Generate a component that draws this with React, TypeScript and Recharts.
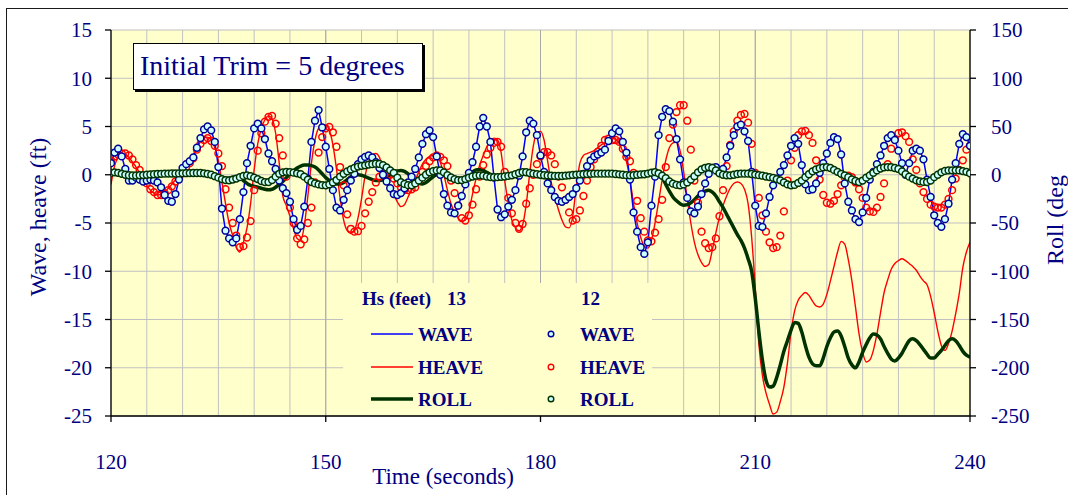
import {
  CartesianGrid,
  ComposedChart,
  Line,
  ReferenceLine,
  XAxis,
  YAxis,
} from "recharts";

// time axis: samples every 0.5 s from 120 s to 240 s
const xMin = 120;
const xMax = 240;
const sampleStep = 0.5;

// wave elevation (ft), same record for both sea states
const wave = [
  1.2, 2.3, 2.7, 1.9, 0.6, -0.6, -0.6, -0.3, -0.5, -0.7,
  -0.6, -0.5, -0.6, -0.8, -1.3, -2.1, -2.7, -2.8, -2.0, -0.5,
  0.7, 1.1, 1.4, 1.8, 2.8, 3.8, 4.7, 5.0, 4.6, 3.4,
  0.8, -3.5, -5.8, -6.6, -7.0, -6.6, -4.6, -1.8, 1.2, 3.0,
  4.8, 5.3, 4.8, 3.7, 2.2, 1.4, 0.6, -0.6, -1.4, -1.9,
  -2.8, -4.6, -5.7, -5.3, -3.3, -0.4, 3.4, 5.6, 6.7, 4.9,
  2.9, 0.6, -1.6, -3.4, -3.7, -2.6, -1.6, -0.6, 0.1, 1.1,
  1.6, 1.85, 2.0, 1.8, 1.3, 0.7, 0.0, -0.7, -1.4, -2.0,
  -2.1, -1.9, -1.4, -0.8, -0.2, 0.6, 1.8, 3.2, 4.2, 4.6,
  3.9, 1.9, 0.0, -2.0, -3.2, -3.9, -4.0, -3.2, -2.2, -1.0,
  0.2, 1.3, 2.9, 5.0, 5.9, 5.0, 3.4, -0.3, -3.6, -4.4,
  -4.1, -3.3, -2.6, -1.6, -0.1, 1.9, 4.4, 5.6, 5.3, 4.1,
  2.0, 0.3, -0.9, -1.6, -2.3, -2.7, -2.8, -2.6, -2.3, -2.0,
  -1.4, -0.6, 0.1, 0.9, 1.5, 1.9, 2.1, 2.3, 2.6, 3.5,
  4.3, 4.8, 4.5, 3.4, 2.3, -0.5, -3.9, -5.9, -7.5, -8.2,
  -7.0, -3.2, -0.2, 4.1, 6.0, 6.8, 6.6, 5.5, 3.7, 1.6,
  -0.8, -2.4, -3.8, -4.0, -3.3, -2.0, -0.9, 0.1, 0.7, 0.8,
  0.2, 0.6, 1.8, 3.0, 4.1, 5.0, 5.2, 4.5, 3.5, 0.3,
  -3.2, -5.3, -5.4, -4.0, -2.3, -1.1, -0.4, 0.3, 1.0, 2.0,
  3.0, 3.8, 3.2, 1.0, -1.0, -1.6, -1.5, -0.9, 0.2, 1.2,
  2.2, 3.3, 3.9, 3.7, 2.1, -0.9, -2.8, -3.7, -4.6, -4.9,
  -3.9, -2.4, -0.5, 0.3, 1.1, 2.0, 3.0, 3.8, 4.1, 3.6,
  2.5, 1.2, 0.0, 1.2, 2.5, 2.7, 2.5, 1.6, -0.5, -2.3,
  -4.2, -5.0, -5.4, -4.6, -3.0, -0.5, 1.2, 3.2, 4.2, 3.9,
  3.0,
];

// heave (ft), Hs = 13 ft
const heave13 = [
  -1.0, 0.9, 1.8, 2.1, 2.1, 1.8, 1.3, 0.8, 0.2, -0.5,
  -1.1, -1.6, -1.9, -2.1, -2.0, -1.8, -1.4, -1.0, -0.5, 0.0,
  0.5, 1.0, 1.5, 2.1, 2.8, 3.4, 3.8, 3.9, 3.6, 2.8,
  1.5, -0.8, -3.0, -5.0, -6.3, -7.5, -8.0, -7.0, -5.5, -3.0,
  0.5, 3.2, 4.8, 5.7, 6.1, 5.8, 4.3, 1.2, -2.2, -3.2,
  -4.3, -5.6, -6.6, -6.8, -5.3, -2.2, 1.2, 3.6, 4.8, 5.1,
  5.1, 4.6, 3.1, 0.6, -2.4, -4.7, -5.8, -6.1, -5.8, -4.5,
  -2.5, -0.1, 1.3, 2.0, 2.2, 1.8, 0.5, -0.6, -1.6, -2.1,
  -2.8, -3.3, -3.1, -2.3, -1.5, -0.6, 0.3, 1.1, 1.6, 1.9,
  2.0, 1.9, 1.3, 0.0, -1.6, -3.0, -3.9, -4.5, -4.8, -4.7,
  -3.8, -2.0, -0.4, 1.0, 2.0, 2.9, 3.5, 3.8, 3.6, 2.3,
  -0.6, -2.9, -4.7, -5.5, -5.8, -5.2, -3.1, 0.2, 3.0, 4.4,
  4.5, 3.6, 1.4, -0.8, -2.3, -3.6, -4.7, -5.4, -5.5, -4.3,
  -1.2, 1.2, 2.0, 2.2, 2.35, 2.5, 2.8, 3.1, 3.3, 3.6,
  3.75, 3.7, 3.2, 2.4, 1.4, -0.5, -3.0, -5.0, -6.5, -7.4,
  -7.6, -6.8, -5.0, -2.8, -0.5, 1.5, 2.8, 3.3, 3.4, 2.5,
  0.3, -2.5, -5.0, -7.0, -8.3, -9.1, -9.5, -9.3, -7.8, -6.0,
  -4.4, -3.2, -2.2, -1.4, -0.9, -0.75, -0.9, -1.5, -3.0, -6.5,
  -11.7, -17.5, -20.8, -22.6, -23.8, -24.8, -24.6, -23.5, -22.0, -19.5,
  -16.3, -14.1, -13.0, -12.5, -12.2, -12.5, -13.1, -13.6, -13.7, -13.4,
  -12.4, -11.0, -9.5, -8.0, -6.9, -7.2, -8.8, -11.0, -13.7, -16.5,
  -18.4, -19.4, -19.2, -18.2, -16.5, -14.3, -12.2, -10.9, -9.8, -9.2,
  -8.9, -8.7, -8.9, -9.2, -9.5, -9.9, -10.5, -11.0, -11.4, -12.6,
  -14.3, -16.2, -17.7, -18.2, -17.5, -16.2, -14.4, -12.3, -9.6, -8.0,
  -7.0,
];

// heave (ft), Hs = 12 ft
const heave12 = [
  1.5, 1.9, 2.1, 2.2, 2.2, 2.0, 1.6, 1.0, 0.5, -0.3,
  -0.9, -1.5, -1.8, -2.1, -2.1, -1.9, -1.6, -1.2, -0.7, -0.3,
  0.2, 0.8, 1.2, 1.7, 2.6, 3.2, 3.6, 3.8, 3.5, 3.0,
  2.2, 0.9, -1.5, -3.4, -5.0, -6.3, -7.5, -7.4, -6.5, -4.8,
  -1.6, 2.5, 4.3, 5.5, 6.0, 6.1, 5.3, 3.8, 2.0, -0.2,
  -3.4, -5.0, -6.6, -7.2, -6.7, -5.0, -3.4, -0.8, 2.3, 3.9,
  4.8, 4.95, 4.4, 2.9, 0.8, -1.1, -4.1, -5.6, -5.9, -5.85,
  -5.3, -4.0, -2.8, -1.8, -0.8, -0.2, 0.0, 0.3, 0.0, -0.4,
  -0.9, -1.3, -1.6, -1.6, -1.5, -1.3, -0.6, 0.3, 0.9, 1.4,
  1.8, 2.0, 1.85, 1.5, 0.9, -0.6, -1.9, -3.2, -4.5, -4.75,
  -4.2, -3.1, -1.5, -0.2, 1.0, 2.1, 2.8, 3.3, 3.4, 2.9,
  0.3, -2.4, -4.0, -5.0, -5.6, -5.1, -3.0, -1.4, 0.0, 1.1,
  1.9, 2.35, 2.35, 2.0, 1.1, -0.2, -1.3, -2.6, -3.9, -4.75,
  -4.6, -3.7, -2.2, -0.6, 0.8, 1.6, 2.4, 3.0, 3.6, 3.75,
  3.6, 3.6, 3.4, 2.7, 1.85, 1.4, 0.2, -2.7, -4.5, -5.9,
  -6.8, -6.9, -6.0, -4.6, -2.6, 0.8, 3.8, 5.2, 6.5, 7.2,
  7.2, 5.6, 2.6, -0.6, -2.9, -5.9, -7.1, -7.6, -7.5, -6.6,
  -4.3, -1.6, 0.9, 3.1, 4.5, 5.6, 6.2, 6.3, 5.4, 3.2,
  0.2, -2.4, -4.2, -5.9, -7.0, -7.6, -7.5, -6.3, -3.8, -0.6,
  1.5, 2.8, 4.1, 4.5, 4.55, 4.1, 3.3, 1.5, -0.5, -2.1,
  -2.9, -3.0, -2.7, -2.0, -1.1, -0.3, -0.1, -0.25, -0.8, -1.5,
  -2.4, -3.4, -3.8, -3.85, -3.4, -2.3, -0.9, 1.1, 2.7, 3.7,
  4.3, 4.4, 4.0, 3.4, 1.6, 0.5, -0.9, -1.8, -2.5, -3.1,
  -3.3, -3.4, -3.4, -3.1, -2.5, -1.6, -0.4, 0.5, 1.5, 2.6,
  3.0,
];

// roll (deg), Hs = 13 ft
const roll13 = [
  2, 1, 0, -1, -1, -1, -1, -0.5, 0, 0,
  0, 0, 0, 0.5, 1, 1, 1, 1, 0.5, 0,
  0, 0, 0, 0, 0, 0, 0, -0.5, -1, -2,
  -3, -3.5, -4, -3.5, -2.5, -2, -3, -6, -9, -11,
  -12, -13, -14, -15, -15.5, -15, -13, -10, -7, -3,
  1, 4, 7, 9, 10, 10, 9.5, 8, 5, 1,
  -3, -6, -8.5, -9.5, -9.5, -8, -5, -2, -0.5, 0,
  -0.5, -2, -3.5, -5, -6, -6, -5, -3, 0, 3,
  4, 4.5, 3.5, 1, -3, -7, -9, -9.5, -8, -5,
  -2, 0, 1, 1, 0, -1.5, -3.5, -5, -5, -3,
  0, 3, 5, 5.5, 4.5, 2.5, 0.5, -1, -2, -2.5,
  -2, -1, 0, 1, 1.5, 2, 2, 1, 0, -1.5,
  -2.5, -3, -3.5, -3.5, -3, -2.5, -2, -1.5, -1, -0.5,
  0, 0, 0, 0, 0, -0.5, -0.5, -0.5, -0.5, -0.5,
  -0.5, -0.5, -1, -1, -1.5, -2, -1.5, -1, -0.5, 0,
  0.5, 1, 1, 0, -3, -10, -17, -23, -27, -30,
  -31.5, -31, -29, -26, -22, -19, -17, -16, -18, -22,
  -28, -34, -41, -48, -55, -62, -68, -76, -87, -100,
  -128, -162, -192, -213, -220, -219, -210, -197, -183, -172,
  -161, -153, -154, -163, -177, -189, -196, -198, -198, -190,
  -178, -169, -163, -162, -167, -178, -190, -197, -200, -194,
  -184, -176, -169, -165, -166, -170, -178, -185, -191, -193,
  -190, -185, -178, -172, -170, -172, -176, -181, -186, -190,
  -190, -186, -182, -177, -172, -170, -172, -177, -183, -187,
  -189,
];

// roll (deg), Hs = 12 ft
const roll12 = [
  2, 2.5, 2, 1, 0, -0.5, -0.8, -0.8, -0.5, -0.3,
  0, 0.3, 0.5, 0.8, 1, 1.1, 1.2, 1.3, 1.3, 1.4,
  1.5, 1.6, 1.7, 1.8, 1.8, 1.8, 1.5, 0.8, 0, -1.5,
  -3, -4.5, -5.5, -5.8, -5, -4, -2.5, -1.2, -0.6, -1.5,
  -3, -4.5, -6.5, -7.6, -7.6, -5.5, -2, 1, 2.5, 3,
  2.8, 2.2, 1.5, 0.5, -2, -5, -7.5, -9, -10, -10.8,
  -11, -10, -8, -5.5, -2, 1, 3.5, 5.5, 7, 8.5,
  9.2, 9.8, 10.5, 11, 11.5, 11.2, 10, 7.5, 4.6, 2,
  -3, -7.6, -9.5, -10.8, -11, -9, -6, -3, 0, 2.5,
  3.8, 4.5, 4.6, 2.5, -0.5, -2.8, -4.5, -5.6, -5.5, -4.5,
  -3, -1.8, -1, -0.6, -1, -1.8, -2.4, -2.5, -2.5, -2.2,
  -1.8, -1.2, -0.6, 0.5, 1.8, 2.8, 2.6, 1.8, 1.1, 0.5,
  0, -0.4, -0.7, -1, -1.2, -1.3, -1.3, -1, -0.6, -0.2,
  0.2, 0.4, 0.6, 0.8, 1, 1.1, 1.1, 1.1, 1.1, 1.1,
  1.1, 0.8, 0.4, 0, -0.4, -0.6, -0.4, 0, 0.3, 0.5,
  1.2, 2.2, 2.8, 1.5, -1, -3.5, -7, -9.2, -10.5, -11,
  -10, -8, -5, -1.5, 2.5, 5.5, 7.2, 8, 7, 4.5,
  1.5, 0, -0.5, -0.6, 0, 0.8, 1.1, 1.1, 1.1, 0.8,
  0.2, -0.4, -1, -1.8, -2.4, -3.2, -4.5, -5.8, -8, -10,
  -11, -10.5, -8.5, -6, -2.5, 0.5, 3.5, 5.5, 6.8, 7.6,
  8, 7, 5, 3, 1, -0.6, -2.5, -4.8, -6.5, -7.6,
  -6, -3, -0.6, 2, 4.5, 6.5, 7.6, 8, 7.8, 7,
  6, 3.5, 0.5, -2, -4, -5.8, -6.8, -7.4, -7.6, -6,
  -2.5, 0, 2.5, 4, 4.6, 4.6, 4.6, 4.5, 3.8, 3,
  1.5,
];

const xTicks = [120, 150, 180, 210, 240];
const majorGridTimes = [150, 180, 210];
const gridTimes = [
  120, 125, 130, 135, 140, 145, 150, 155, 160, 165, 170, 175, 180,
  185, 190, 195, 200, 205, 210, 215, 220, 225, 230, 235, 240,
];
const leftTicks = [-25, -20, -15, -10, -5, 0, 5, 10, 15];
const rightTicks = [-250, -200, -150, -100, -50, 0, 50, 100, 150];

const legendNames = ["WAVE", "HEAVE", "ROLL"];

const NAVY = "#000080";
const FONT = "'Liberation Serif', 'Times New Roman', serif";
const WAVE_BLUE = "#0000FF";
const HEAVE_RED = "#FF0000";
const ROLL_GREEN = "#003300";
const DOT_FILL = "#CCFFFF";

const data = wave.map((w, i) => ({
  t: xMin + i * sampleStep,
  wave13: w,
  wave12: w,
  heave13: heave13[i],
  heave12: heave12[i],
  roll13: roll13[i],
  roll12: roll12[i],
}));

const gridX = ({ xAxis, offset }: any) =>
  gridTimes.map((t) =>
    xAxis && typeof xAxis.scale === "function"
      ? xAxis.scale(t)
      : offset.left + ((t - xMin) / (xMax - xMin)) * offset.width
  );

const tickStyle = { fill: NAVY, fontSize: 21, fontFamily: FONT };

function LegendOverlay() {
  const lineStyles = [
    { stroke: WAVE_BLUE, width: 1.5 },
    { stroke: HEAVE_RED, width: 1.5 },
    { stroke: ROLL_GREEN, width: 3.5 },
  ];
  const dotStyles = [
    { stroke: "#000099", fill: DOT_FILL },
    { stroke: HEAVE_RED, fill: "none" },
    { stroke: ROLL_GREEN, fill: DOT_FILL },
  ];
  const rowY = [334, 367, 399];
  const textProps = {
    fill: NAVY,
    fontFamily: FONT,
    fontSize: 19,
    fontWeight: 700,
  };
  return (
    <g>
      <rect x={343} y={283} width={309} height={132} fill="#FFFFCC" />
      <text x={362} y={305} {...textProps}>Hs (feet)</text>
      <text x={447} y={305} {...textProps}>13</text>
      <text x={581} y={305} {...textProps}>12</text>
      {legendNames.map((name, i) => (
        <g key={name}>
          <line
            x1={371}
            x2={413}
            y1={rowY[i]}
            y2={rowY[i]}
            stroke={lineStyles[i].stroke}
            strokeWidth={lineStyles[i].width}
          />
          <text x={418} y={rowY[i] + 7} {...textProps}>{name}</text>
          <circle
            cx={551}
            cy={rowY[i]}
            r={2.8}
            stroke={dotStyles[i].stroke}
            fill={dotStyles[i].fill}
            strokeWidth={1.4}
          />
          <text x={580} y={rowY[i] + 7} {...textProps}>{name}</text>
        </g>
      ))}
    </g>
  );
}

export default function App() {
  return (
    <div
      style={{
        position: "absolute",
        left: 0,
        top: 0,
        width: 1068,
        height: 495,
        overflow: "hidden",
        background: "#FFFFFF",
      }}
    >
      <div
        style={{
          position: "absolute",
          left: 6,
          top: 8,
          width: 1100,
          height: 520,
          border: "1.5px solid #1a1a1a",
        }}
      />
      <div style={{ position: "absolute", left: 0, top: 0 }}>
        <ComposedChart
          width={1068}
          height={495}
          data={data}
          margin={{ top: 30, right: 48, bottom: 49, left: 61 }}
        >
          <CartesianGrid
            fill="#FFFFCC"
            stroke="#C0C0C0"
            strokeWidth={1}
            verticalCoordinatesGenerator={gridX}
          />
          {majorGridTimes.map((t) => (
            <ReferenceLine key={t} x={t} stroke="#A8A8A8" strokeWidth={1} />
          ))}
          <XAxis
            dataKey="t"
            type="number"
            domain={[xMin, xMax]}
            ticks={xTicks}
            height={30}
            tickSize={6}
            tickMargin={32}
            tick={tickStyle}
            axisLine={{ stroke: "#000", strokeWidth: 1.3 }}
            tickLine={{ stroke: "#000", strokeWidth: 1.3 }}
            allowDataOverflow
          />
          <YAxis
            type="number"
            domain={[-25, 15]}
            ticks={leftTicks}
            width={50}
            tickSize={6}
            tickMargin={13}
            tick={tickStyle}
            axisLine={{ stroke: "#000", strokeWidth: 1.3 }}
            tickLine={{ stroke: "#000", strokeWidth: 1.3 }}
            allowDataOverflow
          />
          <YAxis
            yAxisId="right"
            orientation="right"
            type="number"
            domain={[-250, 150]}
            ticks={rightTicks}
            width={50}
            tickSize={6}
            tickMargin={15}
            tick={{ ...tickStyle, textAnchor: "start" }}
            axisLine={{ stroke: "#000", strokeWidth: 1.3 }}
            tickLine={{ stroke: "#000", strokeWidth: 1.3 }}
            allowDataOverflow
          />
          <Line
            dataKey="heave13"
            type="monotone"
            stroke={HEAVE_RED}
            strokeWidth={1.4}
            dot={false}
            activeDot={false}
            isAnimationActive={false}
          />
          <Line
            dataKey="wave13"
            type="linear"
            stroke={WAVE_BLUE}
            strokeWidth={1.5}
            dot={false}
            activeDot={false}
            isAnimationActive={false}
          />
          <Line
            dataKey="roll13"
            yAxisId="right"
            type="monotone"
            stroke={ROLL_GREEN}
            strokeWidth={3.5}
            dot={false}
            activeDot={false}
            isAnimationActive={false}
          />
          <Line
            dataKey="heave12"
            stroke="none"
            dot={{ r: 3.4, stroke: HEAVE_RED, strokeWidth: 1.5, fill: "none" }}
            activeDot={false}
            isAnimationActive={false}
          />
          <Line
            dataKey="wave12"
            stroke="none"
            dot={{ r: 3.4, stroke: "#000099", strokeWidth: 1.5, fill: DOT_FILL }}
            activeDot={false}
            isAnimationActive={false}
          />
          <Line
            dataKey="roll12"
            yAxisId="right"
            stroke="none"
            dot={{ r: 3.4, stroke: ROLL_GREEN, strokeWidth: 1.5, fill: DOT_FILL }}
            activeDot={false}
            isAnimationActive={false}
          />
        </ComposedChart>
      </div>
      <svg
        width={1068}
        height={495}
        style={{ position: "absolute", left: 0, top: 0, pointerEvents: "none" }}
      >
        <LegendOverlay />
        <text
          x={38}
          y={217}
          transform="rotate(-90 38 217)"
          textAnchor="middle"
          dominantBaseline="central"
          fill={NAVY}
          fontFamily={FONT}
          fontSize={24}
        >
          Wave, heave (ft)
        </text>
        <text
          x={1055}
          y={220}
          transform="rotate(-90 1055 220)"
          textAnchor="middle"
          dominantBaseline="central"
          fill={NAVY}
          fontFamily={FONT}
          fontSize={24}
        >
          Roll (deg
        </text>
        <text
          x={443}
          y={484}
          textAnchor="middle"
          fill={NAVY}
          fontFamily={FONT}
          fontSize={23}
        >
          Time (seconds)
        </text>
      </svg>
      <div
        style={{
          position: "absolute",
          left: 133,
          top: 43,
          width: 290,
          height: 47,
          boxSizing: "border-box",
          background: "#FFFFFF",
          border: "1.5px solid #000",
          boxShadow: "2px 2px 0 #000",
          paddingLeft: 6,
          fontFamily: FONT,
          fontSize: 28,
          lineHeight: "43px",
          color: NAVY,
          whiteSpace: "nowrap",
        }}
      >
        Initial Trim = 5 degrees
      </div>
    </div>
  );
}
